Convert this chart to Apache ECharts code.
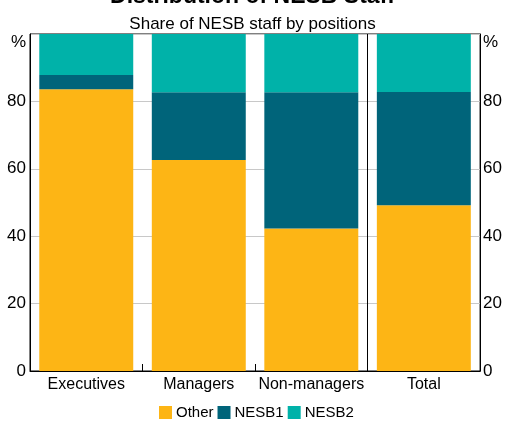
<!DOCTYPE html>
<html>
<head>
<meta charset="utf-8">
<script src="https://cdn.jsdelivr.net/npm/echarts@6/dist/echarts.min.js"></script>
<style>
  html, body { margin: 0; padding: 0; background: #fff; }
  #chart { width: 505px; height: 421px; }
</style>
</head>
<body>
<div id="chart"></div>
<script>
// Share of staff by position, per cent of each group
const categories = ['Executives', 'Managers', 'Non-managers', 'Total'];
const other = [83.6, 62.6, 42.3, 49.2];
const nesb1 = [4.2, 20.1, 40.4, 33.6];
const nesb2 = [12.2, 17.3, 17.3, 17.2];
const yTicks = [0, 20, 40, 60, 80, 100];

const FONT = '"Liberation Sans", Arial, sans-serif';
const colors = { Other: '#FDB515', NESB1: '#00647A', NESB2: '#00B2A9' };

const chart = echarts.init(document.getElementById('chart'), null, { renderer: 'canvas' });

function yLabel(v) {
  return v === yTicks[yTicks.length - 1] ? '{pct|%}' : String(v);
}

const yAxisBase = {
  type: 'value',
  min: yTicks[0],
  max: yTicks[yTicks.length - 1],
  interval: 20,
  axisLine: { show: true, lineStyle: { color: '#000', width: 1 } },
  axisTick: { show: false },
  axisLabel: {
    color: '#000',
    fontFamily: FONT,
    fontSize: 17,
    margin: 4,
    formatter: yLabel,
    rich: { pct: { fontFamily: FONT, fontSize: 17, color: '#000', padding: [16, 0, 0, 0] } }
  }
};

function makeSeries(name, data) {
  return {
    name: name,
    type: 'bar',
    stack: 'share',
    data: data,
    barCategoryGap: '16.5%',
    itemStyle: { color: colors[name] },
    emphasis: { disabled: true }
  };
}

// full-height divider sits in front of the "Total" column
const totalIndex = categories.indexOf('Total');

chart.setOption({
  animation: false,
  textStyle: { fontFamily: FONT },
  title: [
    {
      text: 'Distribution of NESB Staff',
      left: 'center',
      top: -20,
      textStyle: { fontFamily: FONT, fontSize: 23, fontWeight: 'bold', color: '#000' }
    },
    {
      text: 'Share of NESB staff by positions',
      left: 'center',
      top: 11,
      textStyle: { fontFamily: FONT, fontSize: 17, fontWeight: 'normal', color: '#000' }
    }
  ],
  legend: {
    bottom: 1,
    left: 159,
    padding: 0,
    itemWidth: 13,
    itemHeight: 13,
    itemGap: 4,
    icon: 'rect',
    textStyle: { fontFamily: FONT, fontSize: 15, color: '#000', padding: [0, 0, 0, -1] },
    data: ['Other', 'NESB1', 'NESB2']
  },
  grid: {
    left: 30, right: 20, top: 34, bottom: 50,
    show: true, borderColor: '#000', borderWidth: 1, backgroundColor: 'transparent'
  },
  xAxis: {
    type: 'category',
    data: categories,
    axisLine: { show: true, lineStyle: { color: '#000', width: 1 } },
    axisTick: { show: true, inside: true, length: 7, interval: 0, lineStyle: { color: '#000' } },
    splitLine: {
      show: true,
      interval: (index) => index === 0 || index === totalIndex,
      lineStyle: { color: '#000', width: 1 }
    },
    axisLabel: { color: '#000', fontFamily: FONT, fontSize: 16, margin: 6, interval: 0 }
  },
  yAxis: [
    Object.assign({}, yAxisBase, {
      position: 'left',
      splitLine: { show: true, lineStyle: { color: '#c8c8c8', width: 1 } }
    }),
    Object.assign({}, yAxisBase, {
      position: 'right',
      splitLine: { show: false },
      axisLabel: Object.assign({}, yAxisBase.axisLabel, { margin: 3 })
    })
  ],
  series: [
    makeSeries('Other', other),
    makeSeries('NESB1', nesb1),
    makeSeries('NESB2', nesb2)
  ]
});
</script>
</body>
</html>
